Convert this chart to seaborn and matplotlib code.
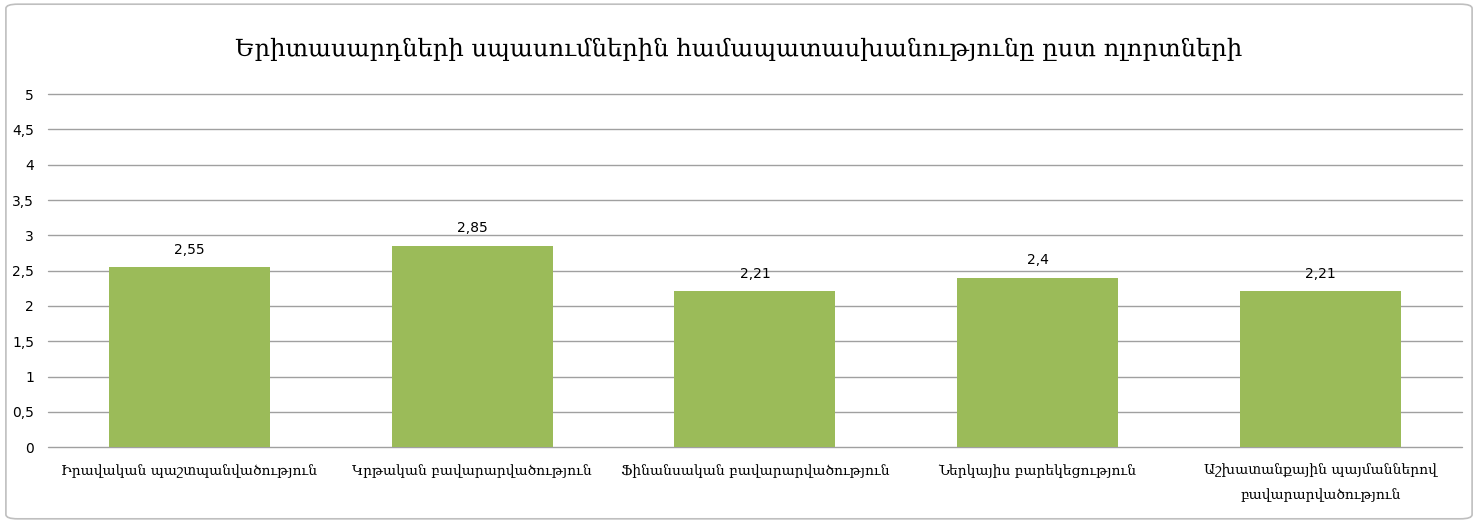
import pandas as pd
import matplotlib.pyplot as plt
import seaborn as sns
from matplotlib.patches import FancyBboxPatch

# Data
categories = [
    'Իրավական պաշտպանվածություն',
    'Կրթական բավարարվածություն',
    'Ֆինանսական բավարարվածություն',
    'Ներկայիս բարեկեցություն',
    'Աշխատանքային պայմաններով\nբավարարվածություն',
]
values = [2.55, 2.85, 2.21, 2.4, 2.21]
y_ticks = [0, 0.5, 1, 1.5, 2, 2.5, 3, 3.5, 4, 4.5, 5]
title = 'Երիտասարդների սպասումներին համապատասխանությունը ըստ ոլորտների'

sns.set_style("white")
plt.rcParams['font.family'] = ['DejaVu Sans']
plt.rcParams['text.color'] = 'black'
plt.rcParams['ytick.color'] = 'black'
plt.rcParams['xtick.color'] = 'black'

df = pd.DataFrame({'category': categories, 'value': values})

fig = plt.figure(figsize=(14.78, 5.23), dpi=100)
ax = fig.add_axes([0.0325, 0.145, 0.9565, 0.675])

sns.barplot(data=df, x='category', y='value', color='#9BBB59', saturation=1,
            width=0.57, edgecolor='none', linewidth=0, ax=ax, zorder=3)

ax.set_ylim(0, 5)
ax.set_xlim(-0.5, len(categories) - 0.5)
ax.set_yticks(y_ticks)
ax.set_yticklabels([f'{t:g}'.replace('.', ',') for t in y_ticks], fontsize=10)
ax.yaxis.grid(True, color='#A0A0A0', linewidth=1.0)
for gl in ax.get_ygridlines():
    gl.set_clip_on(False)
ax.set_axisbelow(True)
for s in ax.spines.values():
    s.set_visible(False)
ax.tick_params(axis='y', length=0, pad=10)
ax.tick_params(axis='x', length=0, pad=12)
ax.set_xlabel('')
ax.set_ylabel('')
ax.set_xticks(range(len(categories)))
ax.set_xticklabels(categories, fontsize=10, family=['DejaVu Serif'], linespacing=1.9)

for i, v in enumerate(values):
    ax.text(i, v + 0.15, f'{v:g}'.replace('.', ','), ha='center', va='bottom', fontsize=10)

fig.text(0.5, 0.905, title, ha='center', va='center', fontsize=17.5, family=['DejaVu Serif'])

# outer chart border
border = FancyBboxPatch((0.004, 0.008), 0.992, 0.984, boxstyle='round,pad=0,rounding_size=0.008',
                        transform=fig.transFigure, facecolor='none', edgecolor='#BFBFBF', linewidth=1.2)
fig.patches.append(border)

fig.savefig('out.png', dpi=100)
